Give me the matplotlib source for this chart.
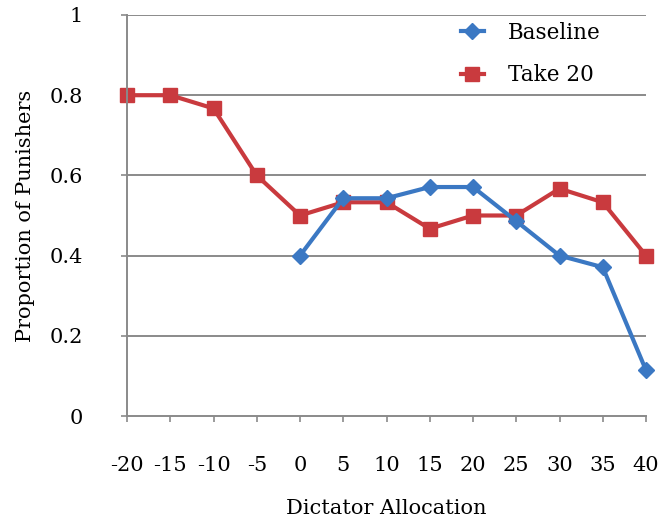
import matplotlib
matplotlib.use("Agg")
import matplotlib.pyplot as plt

allocation = [-20, -15, -10, -5, 0, 5, 10, 15, 20, 25, 30, 35, 40]
baseline_x = [0, 5, 10, 15, 20, 25, 30, 35, 40]
baseline = [0.4, 0.543, 0.543, 0.571, 0.571, 0.486, 0.4, 0.371, 0.114]
take20 = [0.8, 0.8, 0.767, 0.6, 0.5, 0.533, 0.533, 0.467, 0.5, 0.5, 0.567, 0.533, 0.4]
yticks = [0, 0.2, 0.4, 0.6, 0.8, 1]
ytick_labels = ["0", "0.2", "0.4", "0.6", "0.8", "1"]

plt.rcParams['font.family'] = ['DejaVu Serif']

fig = plt.figure(figsize=(6.6, 5.24), dpi=100)
ax = fig.add_axes([127/660, 1-416/524, (646-127)/660, (416-15)/524])

blue = '#3B78C3'
red = '#C93A3E'

ax.plot(baseline_x, baseline, color=blue, lw=3.0, marker='D', ms=8,
        label='Baseline', zorder=3, clip_on=False)
ax.plot(allocation, take20, color=red, lw=3.0, marker='s', ms=9.5,
        label='Take 20', zorder=2, clip_on=False)

ax.set_xlim(-20, 40)
ax.set_ylim(0, 1)
ax.set_xticks(allocation)
ax.set_xticklabels([str(v) for v in allocation])
ax.set_yticks(yticks)
ax.set_yticklabels(ytick_labels)

for y in yticks[1:]:
    ax.axhline(y, color='#8a8a8a', lw=1.4, zorder=1)

for s in ['top', 'right']:
    ax.spines[s].set_visible(False)
ax.spines['left'].set_color('#8a8a8a')
ax.spines['bottom'].set_color('#8a8a8a')
ax.spines['left'].set_linewidth(1.4)
ax.spines['bottom'].set_linewidth(1.4)
ax.tick_params(axis='both', colors='#8a8a8a', length=4, width=1.2,
               labelcolor='black', labelsize=15)
ax.tick_params(axis='x', pad=25)
ax.tick_params(axis='y', pad=28)

ax.set_xlabel('Dictator Allocation', fontsize=15, labelpad=17)
ax.set_ylabel('Proportion of Punishers', fontsize=15, labelpad=10)

leg = ax.legend(loc='upper left', bbox_to_anchor=(0.626, 1.005), borderaxespad=0,
                frameon=False, fontsize=15.5, handlelength=1.1,
                handletextpad=1.1, labelspacing=0.95)

fig.savefig('out.png', dpi=100)
